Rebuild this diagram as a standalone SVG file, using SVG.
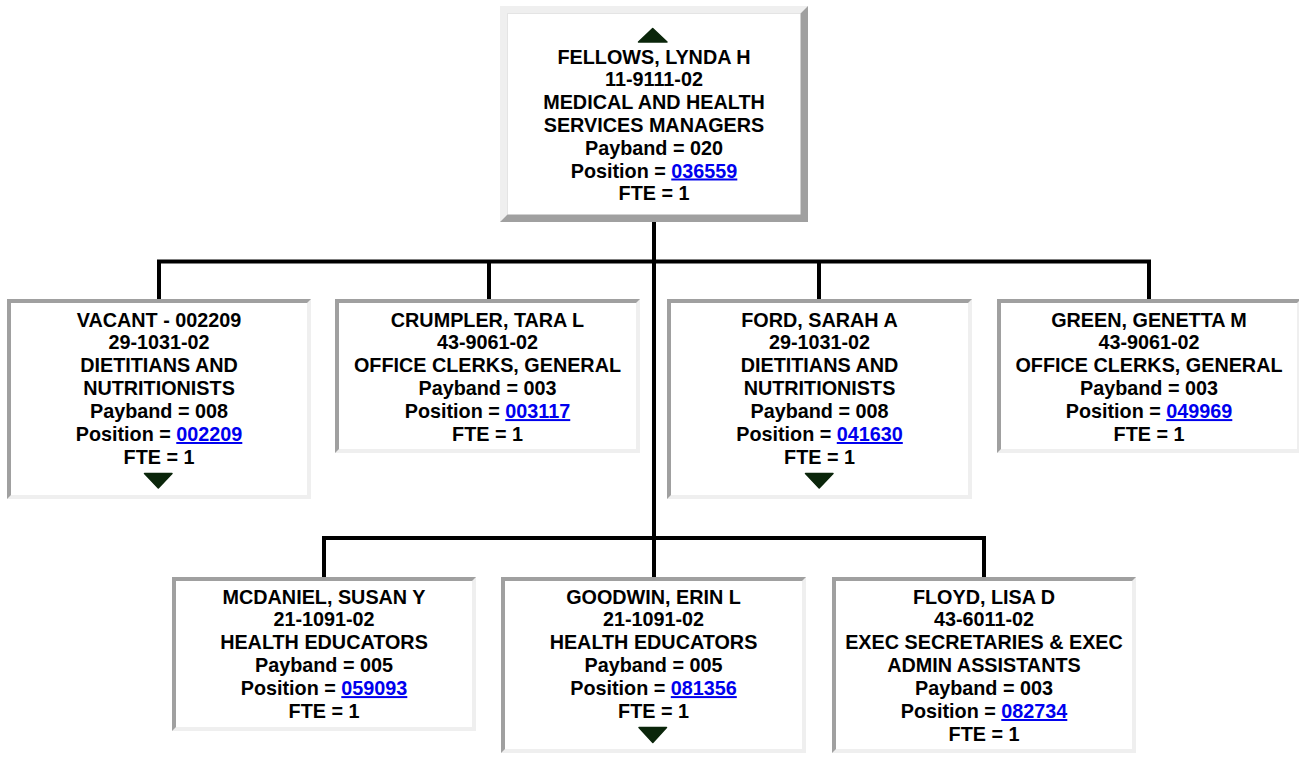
<svg xmlns="http://www.w3.org/2000/svg" width="1299" height="780" viewBox="0 0 1299 780">
<style>
  .t { font-family: "Liberation Sans", Arial, Helvetica, sans-serif; font-weight: bold; font-size: 19.8px; fill: #000; text-anchor: middle; }
  .lnk { fill: #0000ee; text-decoration: underline; }
  .dk { fill: #a0a0a0; }
  .lt { fill: #efefef; }
  .in { fill: #ffffff; }
  .tri { fill: #0b260b; stroke: #0b260b; stroke-width: 1.5; stroke-linejoin: round; }
  .conn { fill: none; stroke: #000; stroke-width: 4; stroke-linejoin: miter; }
</style>
<rect width="1299" height="780" fill="#ffffff"/>

<g id="connectors">
  <path class="conn" d="M654,222 V577"/>
  <path class="conn" d="M159,299 V261.5 H1149 V299"/>
  <path class="conn" d="M489,261.5 V299"/>
  <path class="conn" d="M819,261.5 V299"/>
  <path class="conn" d="M324,577 V538 H984 V577"/>
</g>

<!-- Top node: outset border -->
<g id="node-fellows">
  <rect class="dk" x="500" y="6" width="308" height="216"/>
  <polygon class="lt" points="500,6 808,6 800.5,13.5 507.5,13.5 507.5,214.5 500,222"/>
  <rect class="in" x="507.5" y="13.5" width="293" height="201"/>
  <polygon class="tri" points="638.5,42 667,42 652.7,28.5"/>
  <text class="t" x="654" y="63.5">FELLOWS, LYNDA H</text>
  <text class="t" x="654" y="86.3">11-9111-02</text>
  <text class="t" x="654" y="109.1">MEDICAL AND HEALTH</text>
  <text class="t" x="654" y="131.9">SERVICES MANAGERS</text>
  <text class="t" x="654" y="154.7">Payband = 020</text>
  <text class="t" x="654" y="177.5">Position = <tspan class="lnk">036559</tspan></text>
  <text class="t" x="654" y="200.3">FTE = 1</text>
</g>

<!-- Row 1 -->
<g id="node-vacant">
  <rect class="lt" x="7" y="299" width="304" height="200"/>
  <polygon class="dk" points="7,299 311,299 307,303 11,303 11,495 7,499"/>
  <rect class="in" x="11" y="303" width="296" height="192"/>
  <text class="t" x="159" y="326.5">VACANT - 002209</text>
  <text class="t" x="159" y="349.4">29-1031-02</text>
  <text class="t" x="159" y="372.3">DIETITIANS AND</text>
  <text class="t" x="159" y="395.2">NUTRITIONISTS</text>
  <text class="t" x="159" y="418.1">Payband = 008</text>
  <text class="t" x="159" y="441">Position = <tspan class="lnk">002209</tspan></text>
  <text class="t" x="159" y="463.9">FTE = 1</text>
  <polygon class="tri" points="144.5,473.5 172,473.5 158.3,488"/>
</g>

<g id="node-crumpler">
  <rect class="lt" x="335" y="299" width="305" height="154"/>
  <polygon class="dk" points="335,299 640,299 636,303 339,303 339,449 335,453"/>
  <rect class="in" x="339" y="303" width="297" height="146"/>
  <text class="t" x="487.5" y="326.5">CRUMPLER, TARA L</text>
  <text class="t" x="487.5" y="349.4">43-9061-02</text>
  <text class="t" x="487.5" y="372.3">OFFICE CLERKS, GENERAL</text>
  <text class="t" x="487.5" y="395.2">Payband = 003</text>
  <text class="t" x="487.5" y="418.1">Position = <tspan class="lnk">003117</tspan></text>
  <text class="t" x="487.5" y="441">FTE = 1</text>
</g>

<g id="node-ford">
  <rect class="lt" x="667" y="299" width="305" height="200"/>
  <polygon class="dk" points="667,299 972,299 968,303 671,303 671,495 667,499"/>
  <rect class="in" x="671" y="303" width="297" height="192"/>
  <text class="t" x="819.5" y="326.5">FORD, SARAH A</text>
  <text class="t" x="819.5" y="349.4">29-1031-02</text>
  <text class="t" x="819.5" y="372.3">DIETITIANS AND</text>
  <text class="t" x="819.5" y="395.2">NUTRITIONISTS</text>
  <text class="t" x="819.5" y="418.1">Payband = 008</text>
  <text class="t" x="819.5" y="441">Position = <tspan class="lnk">041630</tspan></text>
  <text class="t" x="819.5" y="463.9">FTE = 1</text>
  <polygon class="tri" points="805.5,473.5 833,473.5 819.2,488"/>
</g>

<g id="node-green">
  <rect class="lt" x="997" y="299" width="304" height="154"/>
  <polygon class="dk" points="997,299 1301,299 1297,303 1001,303 1001,449 997,453"/>
  <rect class="in" x="1001" y="303" width="296" height="146"/>
  <text class="t" x="1149" y="326.5">GREEN, GENETTA M</text>
  <text class="t" x="1149" y="349.4">43-9061-02</text>
  <text class="t" x="1149" y="372.3">OFFICE CLERKS, GENERAL</text>
  <text class="t" x="1149" y="395.2">Payband = 003</text>
  <text class="t" x="1149" y="418.1">Position = <tspan class="lnk">049969</tspan></text>
  <text class="t" x="1149" y="441">FTE = 1</text>
</g>

<!-- Row 2 -->
<g id="node-mcdaniel">
  <rect class="lt" x="172" y="577" width="304" height="154"/>
  <polygon class="dk" points="172,577 476,577 472,581 176,581 176,727 172,731"/>
  <rect class="in" x="176" y="581" width="296" height="146"/>
  <text class="t" x="324" y="603.5">MCDANIEL, SUSAN Y</text>
  <text class="t" x="324" y="626.4">21-1091-02</text>
  <text class="t" x="324" y="649.3">HEALTH EDUCATORS</text>
  <text class="t" x="324" y="672.2">Payband = 005</text>
  <text class="t" x="324" y="695.1">Position = <tspan class="lnk">059093</tspan></text>
  <text class="t" x="324" y="718">FTE = 1</text>
</g>

<g id="node-goodwin">
  <rect class="lt" x="501" y="577" width="305" height="176"/>
  <polygon class="dk" points="501,577 806,577 802,581 505,581 505,749 501,753"/>
  <rect class="in" x="505" y="581" width="297" height="168"/>
  <text class="t" x="653.5" y="603.5">GOODWIN, ERIN L</text>
  <text class="t" x="653.5" y="626.4">21-1091-02</text>
  <text class="t" x="653.5" y="649.3">HEALTH EDUCATORS</text>
  <text class="t" x="653.5" y="672.2">Payband = 005</text>
  <text class="t" x="653.5" y="695.1">Position = <tspan class="lnk">081356</tspan></text>
  <text class="t" x="653.5" y="718">FTE = 1</text>
  <polygon class="tri" points="639,727.5 666.5,727.5 652.8,742.5"/>
</g>

<g id="node-floyd">
  <rect class="lt" x="832" y="577" width="304" height="176"/>
  <polygon class="dk" points="832,577 1136,577 1132,581 836,581 836,749 832,753"/>
  <rect class="in" x="836" y="581" width="296" height="168"/>
  <text class="t" x="984" y="603.5">FLOYD, LISA D</text>
  <text class="t" x="984" y="626.4">43-6011-02</text>
  <text class="t" x="984" y="649.3">EXEC SECRETARIES &amp; EXEC</text>
  <text class="t" x="984" y="672.2">ADMIN ASSISTANTS</text>
  <text class="t" x="984" y="695.1">Payband = 003</text>
  <text class="t" x="984" y="718">Position = <tspan class="lnk">082734</tspan></text>
  <text class="t" x="984" y="740.9">FTE = 1</text>
</g>
</svg>
